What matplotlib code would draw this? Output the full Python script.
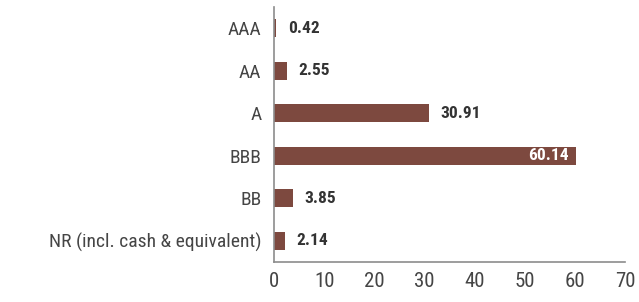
import matplotlib.pyplot as plt
import numpy as np

# Credit rating breakdown
ratings = ['AAA', 'AA', 'A', 'BBB', 'BB', 'NR (incl. cash & equivalent)']
values = [0.42, 2.55, 30.91, 60.14, 3.85, 2.14]
xticks = [0, 10, 20, 30, 40, 50, 60, 70]

plt.rcParams['font.family'] = ['Roboto Condensed', 'DejaVu Sans']

fig = plt.figure(figsize=(6.39, 3.02), dpi=100)
ax = fig.add_axes([274 / 639, 40 / 302, 351 / 639, 255 / 302])

y = np.arange(len(ratings))
bar_color = '#7d493f'
ax.barh(y, values, height=0.42, color=bar_color)

for yi, v in zip(y, values):
    if v > 50:
        ax.text(v - 1.4, yi, f'{v:.2f}', ha='right', va='center',
                color='white', fontsize=12.5, fontweight='bold')
    else:
        ax.text(v + 2.3, yi, f'{v:.2f}', ha='left', va='center',
                color='#333333', fontsize=12.5, fontweight='bold')

ax.set_yticks(y)
ax.set_yticklabels(ratings, fontsize=14, color='#454545')
ax.set_ylim(len(ratings) - 0.5, -0.5)
ax.set_xlim(0, 70)
ax.set_xticks(xticks)
ax.set_xticklabels([str(t) for t in xticks], fontsize=15, color='#454545')
ax.tick_params(axis='y', length=0, pad=9)
ax.tick_params(axis='x', length=0, pad=7)

for s in ['top', 'right']:
    ax.spines[s].set_visible(False)
for s in ['left', 'bottom']:
    ax.spines[s].set_color('#8c8c8c')
    ax.spines[s].set_linewidth(1.2)

fig.savefig('out.png', dpi=100)
